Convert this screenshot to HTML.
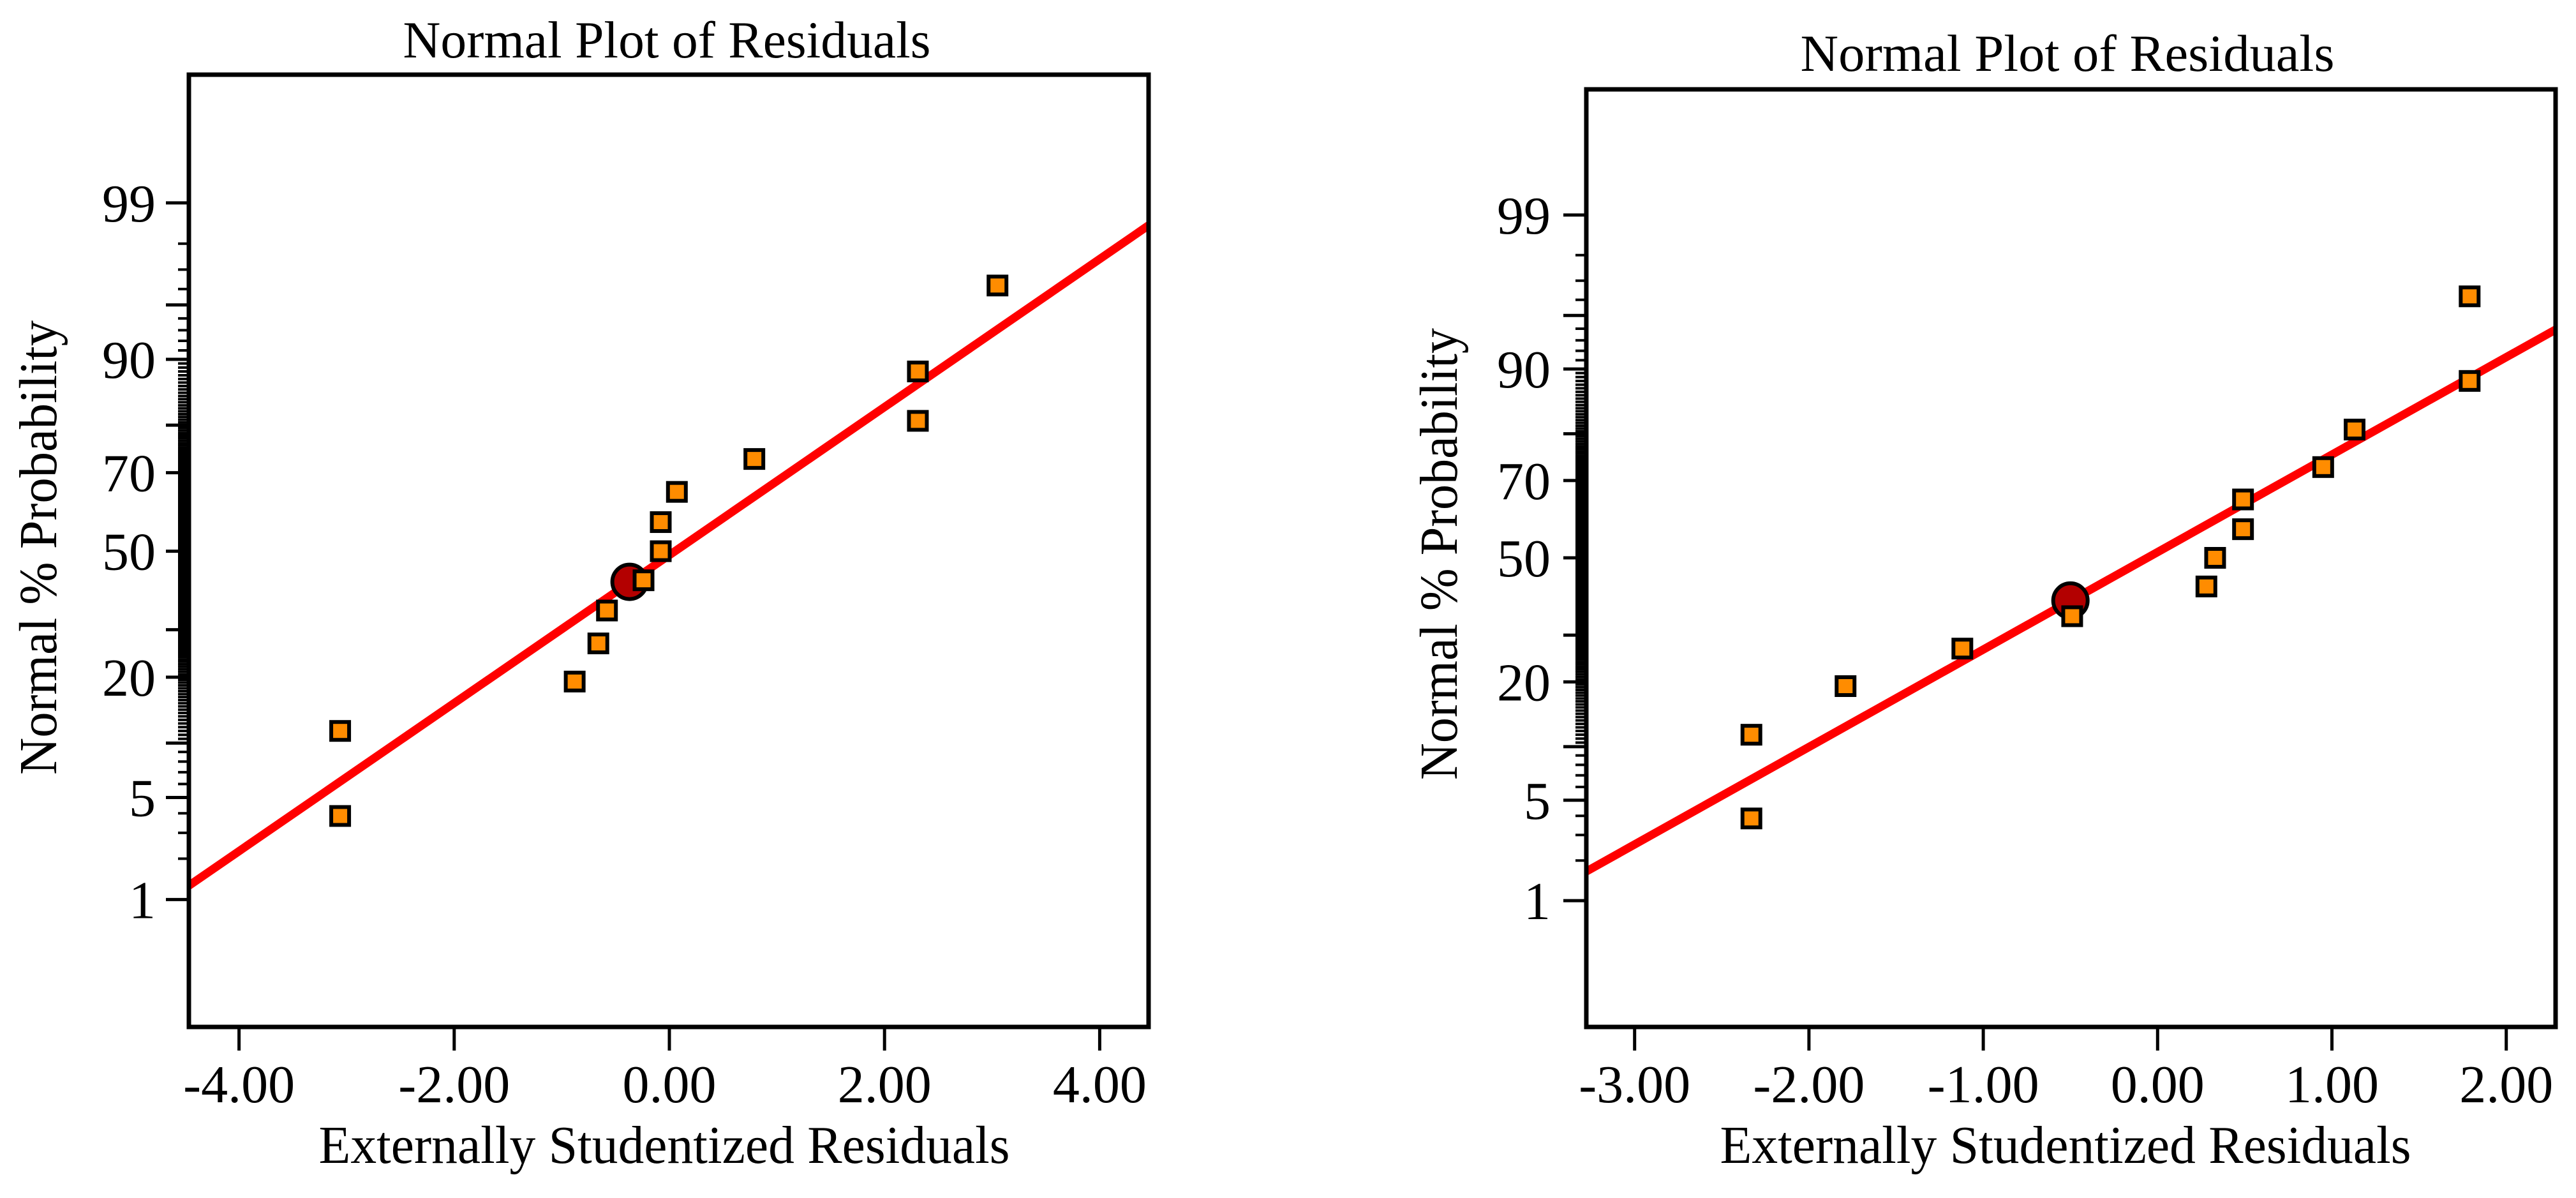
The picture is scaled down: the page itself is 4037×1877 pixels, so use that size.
<!DOCTYPE html>
<html><head><meta charset="utf-8">
<style>
html,body{margin:0;padding:0;background:#fff;}
svg{display:block;}
text{font-family:"Liberation Serif","Times New Roman",serif;fill:#000;}
</style></head>
<body>
<svg id="chart" width="4037" height="1877" viewBox="0 0 4037 1877" xmlns="http://www.w3.org/2000/svg"></svg>
<script>
// ---- data ----
const probTicksLabeled = [1, 5, 20, 50, 70, 90, 99];
const probTicksMajorUnlabeled = [10, 30, 80, 95];
const leftXTicks = [-4, -2, 0, 2, 4];
const leftXTickLabels = ["-4.00", "-2.00", "0.00", "2.00", "4.00"];
const leftResiduals = [-3.06, -3.06, -0.88, -0.66, -0.58, -0.24, -0.08, -0.08, 0.07, 0.79, 2.31, 2.31, 3.05];
const leftProbs = [3.85, 11.5, 19.2, 26.9, 34.6, 42.3, 50, 57.7, 65.4, 73.1, 80.8, 88.5, 96.2];
const leftHighlightX = [-0.37];
const leftHighlightP = [41.9];
const leftFitLine = [-0.026, 0.4943]; // intercept, slope (z units)

const rightXTicks = [-3, -2, -1, 0, 1, 2];
const rightXTickLabels = ["-3.00", "-2.00", "-1.00", "0.00", "1.00", "2.00"];
const rightResiduals = [-2.33, -2.33, -1.79, -1.12, -0.49, 0.28, 0.33, 0.49, 0.49, 0.95, 1.13, 1.79, 1.79];
const rightProbs = [3.85, 11.5, 19.2, 26.9, 34.6, 42.3, 50, 57.7, 65.4, 73.1, 80.8, 88.5, 96.2];
const rightHighlightX = [-0.50];
const rightHighlightP = [38.6];
const rightFitLine = [0.039, 0.6613];

// ---- helpers ----
const NS = "http://www.w3.org/2000/svg";
const svg = document.getElementById("chart");
function mk(tag, attrs, parent) {
  const e = document.createElementNS(NS, tag);
  for (const k in attrs) e.setAttribute(k, attrs[k]);
  (parent || svg).appendChild(e);
  return e;
}
function probit(p) {
  const a=[-39.69683028665376,220.9460984245205,-275.9285104469687,138.3577518672690,-30.66479806614716,2.506628277459239];
  const b=[-54.47609879822406,161.5858368580409,-155.6989798598866,66.80131188771972,-13.28068155288572];
  const c=[-0.007784894002430293,-0.3223964580411365,-2.400758277161838,-2.549732539343734,4.374664141464968,2.938163982698783];
  const d=[0.007784695709041462,0.3224671290700398,2.445134137142996,3.754408661907416];
  const pl=0.02425;
  if (p < pl) { const q=Math.sqrt(-2*Math.log(p)); return (((((c[0]*q+c[1])*q+c[2])*q+c[3])*q+c[4])*q+c[5])/((((d[0]*q+d[1])*q+d[2])*q+d[3])*q+1); }
  if (p > 1-pl) { const q=Math.sqrt(-2*Math.log(1-p)); return -(((((c[0]*q+c[1])*q+c[2])*q+c[3])*q+c[4])*q+c[5])/((((d[0]*q+d[1])*q+d[2])*q+d[3])*q+1); }
  const q=p-0.5, r=q*q;
  return (((((a[0]*r+a[1])*r+a[2])*r+a[3])*r+a[4])*r+a[5])*q/(((((b[0]*r+b[1])*r+b[2])*r+b[3])*r+b[4])*r+1);
}

function drawPlot(cfg) {
  const g = mk("g", {});
  
  
  const xS = v => cfg.x0 + v * cfg.xUnit;
  const yZ = z => cfg.y50 - z * cfg.k;
  const yP = p => yZ(probit(p / 100));
  const clipId = cfg.name + "-clip";
  const defs = mk("defs", {}, g);
  const cp = mk("clipPath", {id: clipId}, defs);
  mk("rect", {x: cfg.L, y: cfg.T, width: cfg.R - cfg.L, height: cfg.B - cfg.T}, cp);

  // title
  const t = mk("text", {x: cfg.titleX, y: cfg.titleY, "text-anchor": "middle", "font-size": 82, textLength: cfg.titleW, lengthAdjust: "spacingAndGlyphs"}, g);
  t.textContent = "Normal Plot of Residuals";
  
  

  // y minor ticks
  for (let p2 = 4; p2 <= 196; p2++) {
    const p = p2 / 2;
    if (p < 10 || p > 90) { if (p2 % 2) continue; }
    if (probTicksLabeled.includes(p) || probTicksMajorUnlabeled.includes(p)) continue;
    const y = yP(p);
    const m = mk("line", {x1: cfg.L - 17, x2: cfg.L, y1: y, y2: y, stroke: "#000", "stroke-width": 4}, g);
    
    
  }
  probTicksMajorUnlabeled.forEach(p => {
    const y = yP(p);
    const m = mk("line", {x1: cfg.L - 36, x2: cfg.L, y1: y, y2: y, stroke: "#000", "stroke-width": 5}, g);
    
    
  });
  probTicksLabeled.forEach(p => {
    const y = yP(p);
    const m = mk("line", {x1: cfg.L - 36, x2: cfg.L, y1: y, y2: y, stroke: "#000", "stroke-width": 5}, g);
    
    
    const tl = mk("text", {x: cfg.yLabelRight, y: y + 29, "text-anchor": "end", "font-size": 84}, g);
    tl.textContent = String(p);
    
    
  });

  // x ticks
  cfg.xTicks.forEach((v, i) => {
    const x = xS(v);
    const m = mk("line", {x1: x, x2: x, y1: cfg.B, y2: cfg.B + 37, stroke: "#000", "stroke-width": 5}, g);
    
    
    const tl = mk("text", {x: x, y: 1727, "text-anchor": "middle", "font-size": 84}, g);
    tl.textContent = cfg.xTickLabels[i];
    
    
  });

  // axis titles
  const xt = mk("text", {x: cfg.xTitleX, y: 1822, "text-anchor": "middle", "font-size": 84, textLength: 1083, lengthAdjust: "spacingAndGlyphs"}, g);
  xt.textContent = "Externally Studentized Residuals";
  
  
  const yt = mk("text", {x: 0, y: 0, "text-anchor": "middle", "font-size": 84, textLength: cfg.yTitleW, lengthAdjust: "spacingAndGlyphs", transform: `translate(${cfg.yTitleX},${cfg.yTitleY}) rotate(-90)`}, g);
  yt.textContent = "Normal % Probability";
  
  

  // fit line
  const xa = (cfg.L - cfg.x0) / cfg.xUnit, xb = (cfg.R - cfg.x0) / cfg.xUnit;
  const ln = mk("line", {x1: xS(xa), y1: yZ(cfg.fit[0] + cfg.fit[1] * xa), x2: xS(xb), y2: yZ(cfg.fit[0] + cfg.fit[1] * xb), stroke: "#ff0000", "stroke-width": 13, "clip-path": `url(#${clipId})`}, g);
  
  

  // highlight circle
  cfg.hx.forEach((v, i) => {
    const c = mk("circle", {cx: xS(v), cy: yP(cfg.hp[i]), r: 27, fill: "#b30000", stroke: "#000", "stroke-width": 6}, g);
    
    
  });

  // points
  cfg.xs.forEach((v, i) => {
    const cx = xS(v), cy = yP(cfg.ps[i]);
    const r = mk("rect", {x: cx - 14, y: cy - 14, width: 28, height: 28, fill: "#ff8c00", stroke: "#000", "stroke-width": 6}, g);
    
    
  });

  // frame
  const f = mk("rect", {x: cfg.L, y: cfg.T, width: cfg.R - cfg.L, height: cfg.B - cfg.T, fill: "none", stroke: "#000", "stroke-width": 7}, g);
  
  
}

drawPlot({name: "left-normal-plot", L: 296, R: 1800, T: 117, B: 1609,
  x0: 1049, xUnit: 168.6, y50: 863.6, k: 234.6,
  titleX: 1045, titleY: 90, titleW: 827, yLabelRight: 244,
  xTitleX: 1041, yTitleX: 88, yTitleY: 858, yTitleW: 712,
  xTicks: leftXTicks, xTickLabels: leftXTickLabels, fit: leftFitLine,
  xs: leftResiduals, ps: leftProbs, hx: leftHighlightX, hp: leftHighlightP});

drawPlot({name: "right-normal-plot", L: 2486, R: 4005, T: 140, B: 1609,
  x0: 3381.3, xUnit: 273.2, y50: 874, k: 230.9,
  titleX: 3240, titleY: 111, titleW: 837, yLabelRight: 2430,
  xTitleX: 3237, yTitleX: 2283, yTitleY: 868, yTitleW: 708,
  xTicks: rightXTicks, xTickLabels: rightXTickLabels, fit: rightFitLine,
  xs: rightResiduals, ps: rightProbs, hx: rightHighlightX, hp: rightHighlightP});
</script>
</body></html>
